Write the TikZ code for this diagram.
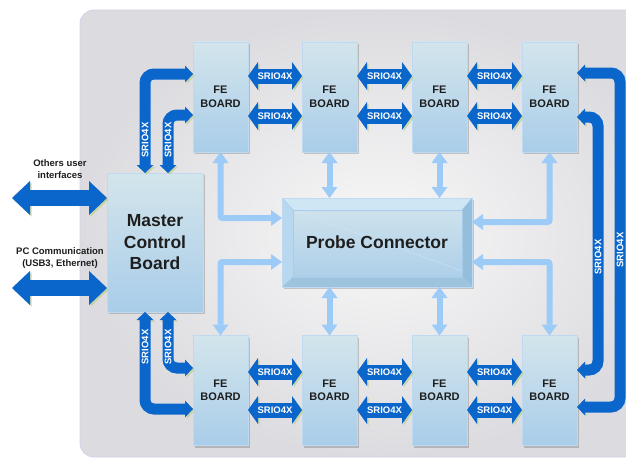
\documentclass[tikz,border=0pt]{standalone}
\usepackage{fontspec}
\setmainfont{Liberation Sans}
\usetikzlibrary{arrows.meta,shadows,calc}
\definecolor{dblue}{HTML}{0B66CC}
\definecolor{lblue}{HTML}{9CCBF7}
\definecolor{bdtop}{HTML}{D3E5EC}
\definecolor{bdbot}{HTML}{A9CDE9}
\definecolor{bdline}{HTML}{BFDAF0}
\definecolor{panelin}{HTML}{F8F8F8}
\definecolor{panelout}{HTML}{DCDCE0}
\definecolor{panelline}{HTML}{D2D2EA}
\definecolor{txt}{HTML}{1E1E1E}
\definecolor{rimtop}{HTML}{CFE6F4}
\definecolor{rimleft}{HTML}{B7D8EF}
\definecolor{rimright}{HTML}{95BEDC}
\definecolor{rimbot}{HTML}{9EC3DC}
\definecolor{rimline}{HTML}{A8CDEA}
\definecolor{arrshadow}{HTML}{BFCF8C}
\tikzset{
  board/.style={draw=bdline, line width=0.8pt, top color=bdtop, bottom color=bdbot,
    minimum width=55pt, minimum height=110pt, align=center, inner sep=0pt, outer sep=0pt,
    text=txt, font=\bfseries\fontsize{11}{13.5}\selectfont,
    drop shadow={shadow xshift=2pt, shadow yshift=-2pt, opacity=0.18, fill=black}},
  bigboard/.style={board, minimum width=96pt, minimum height=139pt,
    font=\bfseries\fontsize{17.5}{21.5}\selectfont},
  probebox/.style={draw=bdline, line width=0.8pt, top color=bdtop, bottom color=bdbot,
    minimum width=190pt, minimum height=89pt, inner sep=0pt, outer sep=0pt,
    drop shadow={shadow xshift=2pt, shadow yshift=-2pt, opacity=0.18, fill=black}},
  dtip/.tip={Triangle[width=28pt,length=10pt,line width=0pt]},
  ltip/.tip={Triangle[width=34pt,length=18pt,line width=0pt]},
  btip/.tip={Triangle[width=17pt,length=8pt,line width=0pt]},
  ptip/.tip={Triangle[width=16pt,length=11pt,line width=0pt]},
  arrshade/.style={preaction={draw=arrshadow, opacity=0.7, transform canvas={shift={(1.6pt,-1.6pt)}}}},
  fatarrow/.style={draw=dblue, line width=15pt, dtip-dtip, arrshade},
  sidearrow/.style={draw=dblue, line width=16pt, ltip-ltip, arrshade},
  bentarrow/.style={draw=dblue, line width=11pt, rounded corners=9pt, btip-btip, arrshade},
  lbarrow/.style={draw=lblue, line width=6pt, ptip-ptip},
  srio/.style={text=white, font=\bfseries\fontsize{9.5}{10}\selectfont, inner sep=0pt},
  sidelabel/.style={text=txt, align=center, font=\bfseries\fontsize{9.5}{12}\selectfont, inner sep=0pt},
}
\begin{document}
\begin{tikzpicture}[x=1pt,y=-1pt]
\useasboundingbox (0,0) rectangle (626,460);
\fill[white] (0,0) rectangle (626,460);
\clip (0,0) rectangle (626,460);
% panel
\draw[panelline, line width=0.8pt, inner color=panelin, outer color=panelout, rounded corners=14pt]
  (80,10) rectangle (680,457);

% boards
\node[board] (t1) at (220.5,97) {FE\\BOARD};
\node[board] (t2) at (329.5,97) {FE\\BOARD};
\node[board] (t3) at (439.5,97) {FE\\BOARD};
\node[board] (t4) at (549.5,97) {FE\\BOARD};
\node[board] (b1) at (220.5,390.5) {FE\\BOARD};
\node[board] (b2) at (329.5,390.5) {FE\\BOARD};
\node[board] (b3) at (439.5,390.5) {FE\\BOARD};
\node[board] (b4) at (549.5,390.5) {FE\\BOARD};
\node[bigboard] (mcb) at (155,242.5) {Master\\Control\\Board};

% probe connector
\node[probebox] (pc) at (377,242.5) {};
\coordinate (itl) at ($(pc.north west)+(11,12)$);
\coordinate (itr) at ($(pc.north east)+(-10,12)$);
\coordinate (ibl) at ($(pc.south west)+(11,-10)$);
\coordinate (ibr) at ($(pc.south east)+(-10,-10)$);
\draw[white!60!lblue, opacity=0.5, line width=0.6pt] (itl) -- ($(ibr)+(0,-6)$);
\fill[rimtop] (pc.north west) -- (pc.north east) -- (itr) -- (itl) -- cycle;
\fill[rimleft] (pc.north west) -- (itl) -- (ibl) -- (pc.south west) -- cycle;
\fill[rimright] (pc.north east) -- (pc.south east) -- (ibr) -- (itr) -- cycle;
\fill[rimbot] (pc.south west) -- (ibl) -- (ibr) -- (pc.south east) -- cycle;
\draw[rimline, line width=0.6pt] (pc.north west) -- (itl) (pc.north east) -- (itr)
  (pc.south west) -- (ibl) (pc.south east) -- (ibr);
\draw[rimline, line width=0.6pt] (itl) rectangle (ibr);
\draw[bdline, line width=0.8pt] (pc.north west) rectangle (pc.south east);
\node[text=txt, font=\bfseries\fontsize{17.5}{20}\selectfont] (pclabel) at (pc.center) {Probe Connector};

% light blue links
\draw[lbarrow, rounded corners=2pt] (t1.south) |- (pc.west |- 0,218);
\draw[lbarrow] (t2.south) -- (t2.south |- pc.north);
\draw[lbarrow] (t3.south) -- (t3.south |- pc.north);
\draw[lbarrow, rounded corners=2pt] (t4.south) |- (pc.east |- 0,222);
\draw[lbarrow, rounded corners=2pt] (pc.west |- 0,262) -| (b1.north);
\draw[lbarrow] (b2.north) -- (b2.north |- pc.south);
\draw[lbarrow] (b3.north) -- (b3.north |- pc.south);
\draw[lbarrow, rounded corners=2pt] (pc.east |- 0,262) -| (b4.north);

% horizontal SRIO links
\foreach \a/\b in {t1/t2,t2/t3,t3/t4} {
  \draw[fatarrow] (\a.east |- 0,76) -- (\b.west |- 0,76) node[midway,srio] {SRIO4X};
  \draw[fatarrow] (\a.east |- 0,116) -- (\b.west |- 0,116) node[midway,srio] {SRIO4X};
}
\foreach \a/\b in {b1/b2,b2/b3,b3/b4} {
  \draw[fatarrow] (\a.east |- 0,372) -- (\b.west |- 0,372) node[midway,srio] {SRIO4X};
  \draw[fatarrow] (\a.east |- 0,410) -- (\b.west |- 0,410) node[midway,srio] {SRIO4X};
}

% master to boards
\draw[bentarrow] (mcb.north -| 145,0) |- (t1.west |- 0,74);
\draw[bentarrow] (mcb.north -| 168,0) |- (t1.west |- 0,115);
\draw[bentarrow] (mcb.south -| 145,0) |- (b1.west |- 0,409);
\draw[bentarrow] (mcb.south -| 168,0) |- (b1.west |- 0,368);
\node[srio, rotate=90] (la) at (145,140) {SRIO4X};
\node[srio, rotate=90] (lb) at (168,140) {SRIO4X};
\node[srio, rotate=90] (lc) at (145,347) {SRIO4X};
\node[srio, rotate=90] (ld) at (168,347) {SRIO4X};

% right side loops
\draw[bentarrow] (t4.east |- 0,73) -| (620,240) |- (b4.east |- 0,407);
\draw[bentarrow] (t4.east |- 0,117) -| (598,240) |- (b4.east |- 0,370);
\node[srio, rotate=90] (le) at (620,250) {SRIO4X};
\node[srio, rotate=90] (lf) at (598,257) {SRIO4X};

% external interfaces
\coordinate (ou) at (12,198);
\coordinate (pcc) at (12,288);
\draw[sidearrow] (ou) -- (mcb.west |- ou);
\draw[sidearrow] (pcc) -- (mcb.west |- pcc);
\node[sidelabel] (l1) at (60,169) {Others user\\interfaces};
\node[sidelabel] (l2) at (60,258) {PC Communication\\(USB3, Ethernet)};
\end{tikzpicture}
\end{document}
